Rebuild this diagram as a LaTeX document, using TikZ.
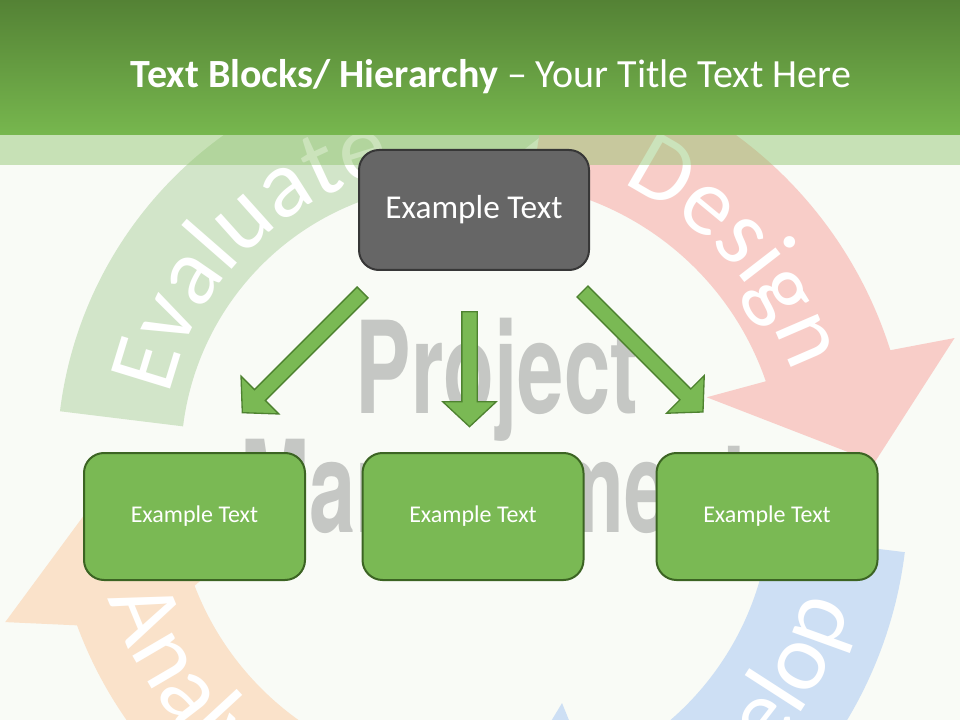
\documentclass[tikz,border=0pt]{standalone}
\usepackage{fontspec}
\setmainfont{Carlito}
\newfontfamily\pmfont{TeX Gyre Heros}
\usetikzlibrary{positioning}
\usetikzlibrary{calc}
\usetikzlibrary{shapes.arrows}
\usetikzlibrary{decorations.text}
\definecolor{pagebg}{RGB}{249,251,246}
\definecolor{hdtop}{RGB}{84,130,53}
\definecolor{hdbot}{RGB}{119,183,78}
\definecolor{bandc}{RGB}{140,195,105}
\definecolor{evalc}{RGB}{210,229,201}
\definecolor{desc}{RGB}{248,205,200}
\definecolor{devc}{RGB}{205,223,244}
\definecolor{anac}{RGB}{250,226,202}
\definecolor{pmgray}{RGB}{197,199,196}
\definecolor{boxgreen}{RGB}{122,185,84}
\definecolor{boxline}{RGB}{60,100,35}
\definecolor{arrline}{RGB}{78,130,48}
\definecolor{topfill}{RGB}{102,102,102}
\definecolor{topline}{RGB}{55,55,55}
\newcommand{\arcfont}{\fontsize{72}{72}\selectfont\color{white}}

\begin{document}
\begin{tikzpicture}[x=0.75pt, y=-0.75pt,
    topbox/.style={draw=topline, fill=topfill, line width=1.5pt, rounded corners=15pt,
        minimum width=172.5pt, minimum height=90pt, text=white, font=\fontsize{25}{29}\selectfont},
    leafbox/.style={draw=boxline, fill=boxgreen, line width=1.5pt, rounded corners=15pt,
        minimum width=165.75pt, minimum height=95.25pt, text=white, font=\fontsize{18}{22}\selectfont},
    blockarrow/.style={single arrow, draw=arrline, fill=boxgreen, line width=1pt,
        inner xsep=0pt, inner ysep=5.25pt, single arrow head extend=14.25pt,
        single arrow tip angle=94, anchor=tail},
    pmtext/.style={text=pmgray, font=\pmfont\bfseries\fontsize{96}{96}\selectfont, xscale=0.65, anchor=base},
    arctext/.style={decorate, decoration={text along path, text align=center, text={|\arcfont|#1}}}]
    \useasboundingbox (0,0) rectangle (960,720);
    \fill[pagebg] (0,0) rectangle (960,720);

    % centres of the four cycle arrows
    \coordinate (G) at (457,460);
    \coordinate (R) at (485,478);
    \coordinate (B) at (480,500);
    \coordinate (O) at (470,480);

    % background cycle
    \fill[anac] ($(O)+(-200.3:419)$) arc[start angle=-200.3, end angle=-265, radius=419]
        -- ($(O)+(-265:295)$) arc[start angle=-265, end angle=-201, radius=295]
        -- ($(O)+(-195:230)$) -- ($(O)+(-180:360)$) -- ($(O)+(-197:486)$) -- cycle;
    \fill[evalc] ($(G)+(-173:400)$) arc[start angle=-173, end angle=-100, radius=400]
        -- ($(G)+(-100:446)$) -- ($(G)+(-75:338)$) -- ($(G)+(-100:230)$)
        -- ($(G)+(-100:276)$) arc[start angle=-100, end angle=-173, radius=276] -- cycle;
    \fill[desc] ($(R)+(-81:425)$) arc[start angle=-81, end angle=-17.5, radius=425]
        -- ($(R)+(-16.6:490)$) -- ($(R)+(-2.3:390)$) -- ($(R)+(-20:236)$)
        -- ($(R)+(-19:297)$) arc[start angle=-19, end angle=-81, radius=297] -- cycle;
    \fill[devc] ($(B)+(7:428)$) arc[start angle=7, end angle=68, radius=428]
        -- ($(B)+(68:500)$) -- ($(B)+(92:360)$) -- ($(B)+(68:219)$)
        -- ($(B)+(68:291)$) arc[start angle=68, end angle=7, radius=291] -- cycle;

    \path[arctext=Evaluate] ($(G)+(-175:295)$) arc[start angle=-175, end angle=-95, radius=295];
    \path[arctext=Design] ($(R)+(-78:325)$) arc[start angle=-78, end angle=-6, radius=325];
    \path[arctext=Develop] ($(B)+(84:385)$) arc[start angle=84, end angle=-4, radius=385];
    \path[arctext=Analyze] ($(O)+(-176:380)$) arc[start angle=-176, end angle=-266, radius=380];

    \node[pmtext] (proj) at (497,413) {Project};
    \node[pmtext] (mgmt) at (495,532) {Management};

    % title bar
    \shade[top color=hdtop, bottom color=hdbot] (0,0) rectangle (960,135);
    \fill[bandc, fill opacity=0.45] (0,135) rectangle (960,165);
    \node[text=white, font=\fontsize{30}{35}\selectfont, anchor=base] (title) at (491,88)
        {\textbf{Text Blocks/ Hierarchy} – Your Title Text Here};

    % hierarchy
    \node[topbox] (top) at (474,210) {Example Text};
    \node[leafbox] (left) at (194.5,516.5) {Example Text};
    \node[leafbox] (mid) at (473,516.5) {Example Text};
    \node[leafbox] (right) at (767,516.5) {Example Text};

    \node[blockarrow, minimum height=127.5pt, rotate=225] (arrL) at (363,292) {};
    \node[blockarrow, minimum height=86.25pt, rotate=270] (arrM) at (469.5,311) {};
    \node[blockarrow, minimum height=127.8pt, rotate=-45] (arrR) at (582,291) {};
\end{tikzpicture}
\end{document}
